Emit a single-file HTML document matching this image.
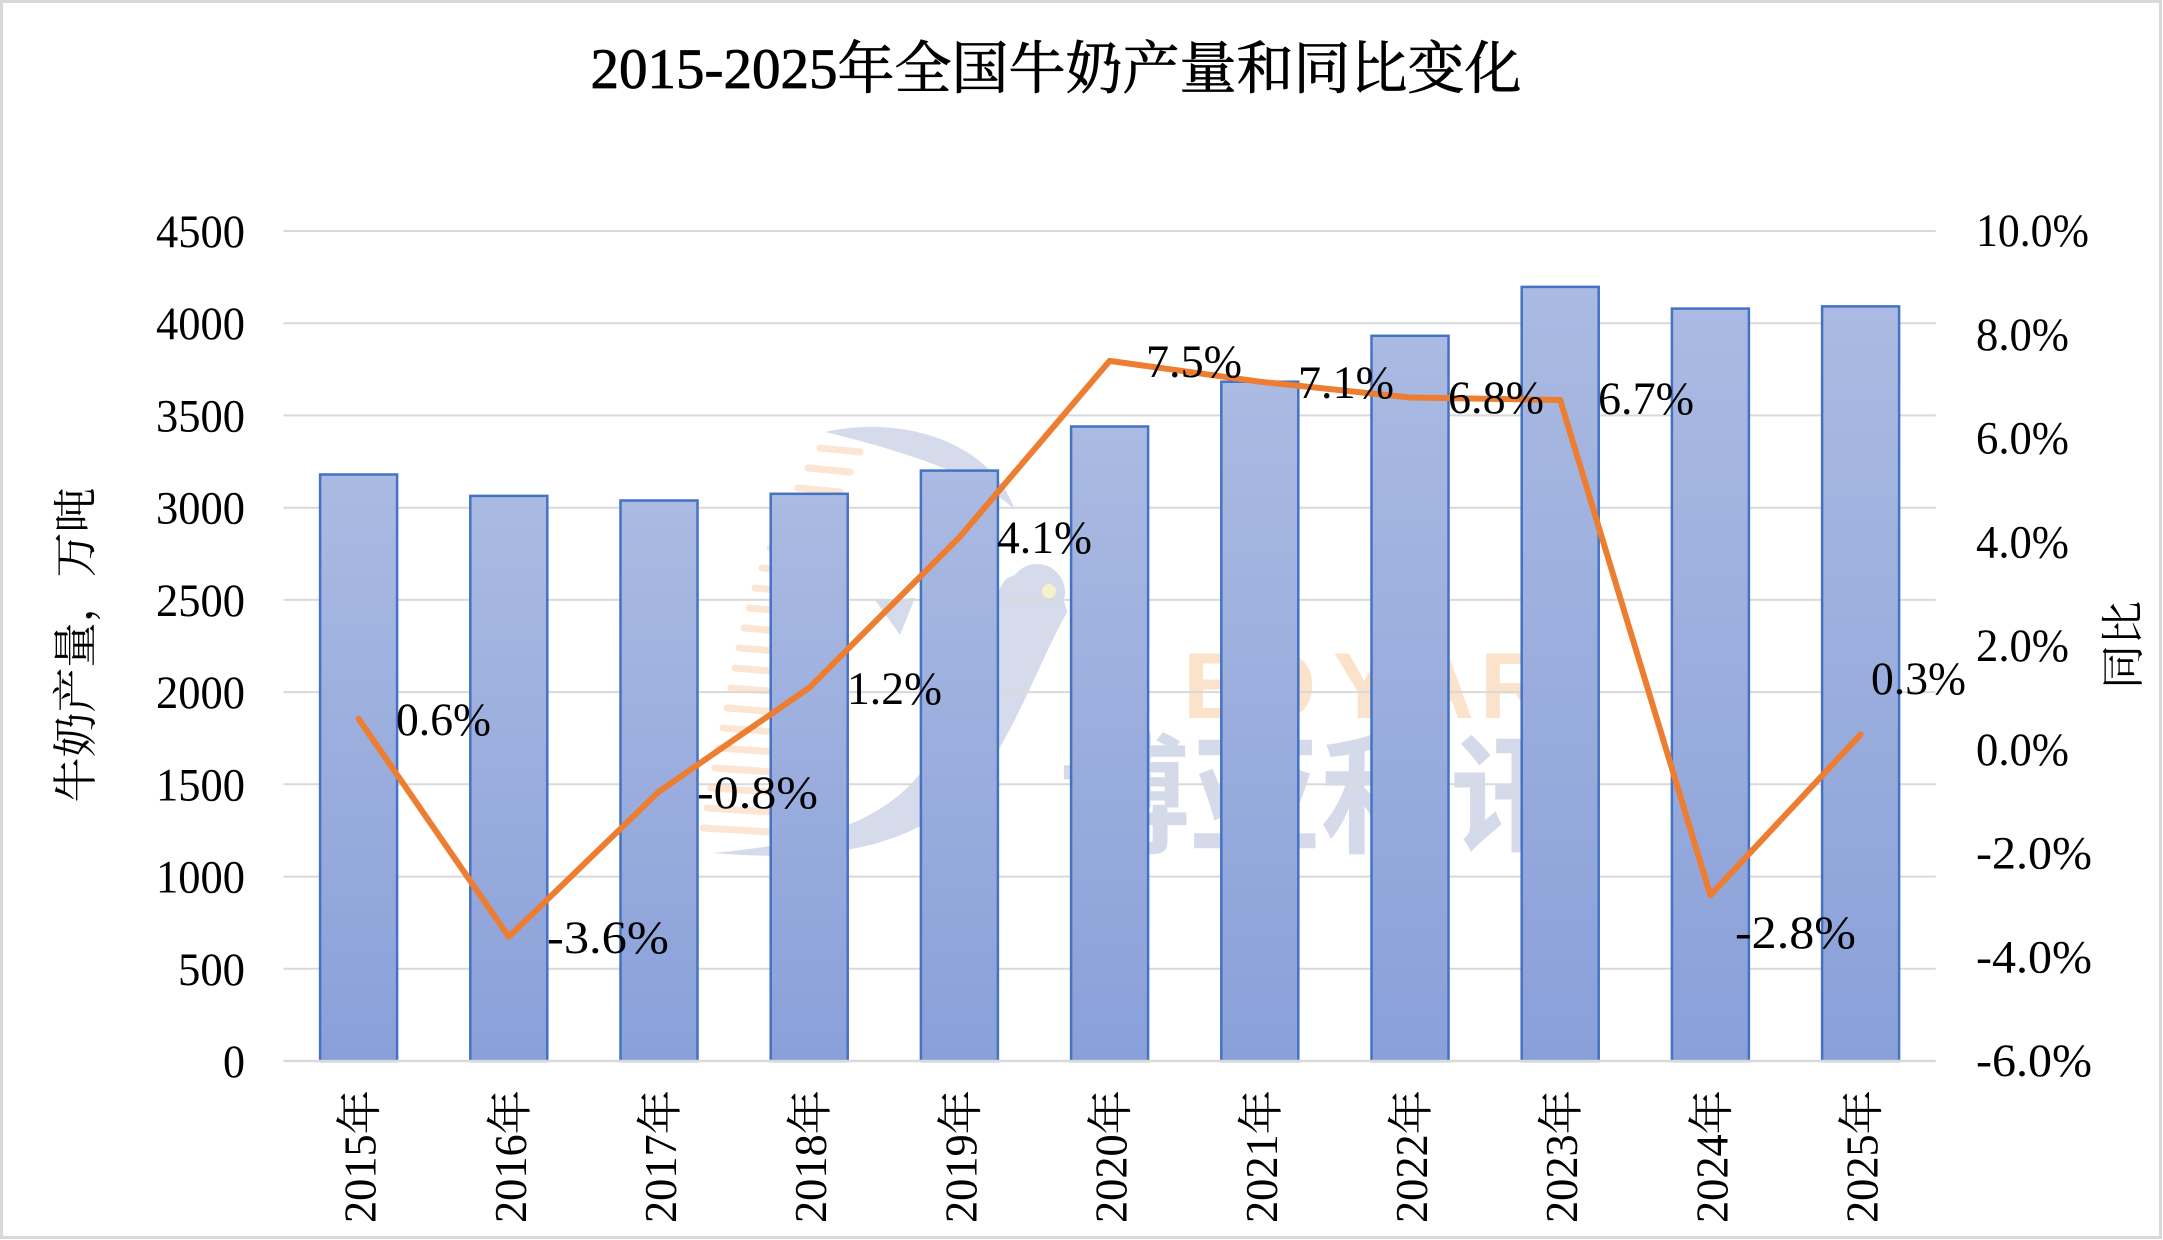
<!DOCTYPE html>
<html><head><meta charset="utf-8"><style>html,body{margin:0;padding:0;background:#fff}svg{display:block}</style></head>
<body>
<svg width="2163" height="1240" viewBox="0 0 2163 1240" xmlns="http://www.w3.org/2000/svg">
<defs>
<linearGradient id="bg" x1="0" y1="0" x2="0" y2="1">
<stop offset="0" stop-color="#AABAE2"/><stop offset="1" stop-color="#8AA0D9"/>
</linearGradient>
</defs>
<rect width="2163" height="1240" fill="#fff"/>
<rect x="1.5" y="1.5" width="2159" height="1236" fill="none" stroke="#D9D9D9" stroke-width="3"/>

<!-- watermark -->
<g>
<path d="M825 432 C900 415 990 440 1015 510 C985 480 920 455 825 432 Z" fill="#D6DBEB"/>
<circle cx="1037" cy="592" r="28" fill="#D6DBEB"/>
<path d="M1067 612 C1060 575 1025 565 1005 580 C985 610 970 660 950 720 C920 800 860 840 713 853 C820 862 900 850 960 800 C1010 750 1030 680 1067 612 Z" fill="#D6DBEB"/>
<path d="M875 600 L915 598 L900 635 Z" fill="#D6DBEB"/>
<circle cx="1049" cy="591" r="7" fill="#F6F2C8"/>
<g stroke="#FCE6D3" stroke-width="7" stroke-linecap="round">
<line x1="820" y1="448" x2="860" y2="452"/><line x1="808" y1="468" x2="850" y2="472"/>
<line x1="798" y1="488" x2="840" y2="492"/><line x1="788" y1="508" x2="830" y2="512"/>
<line x1="779" y1="528" x2="822" y2="532"/><line x1="770" y1="548" x2="814" y2="552"/>
<line x1="762" y1="568" x2="806" y2="572"/><line x1="755" y1="588" x2="800" y2="592"/>
<line x1="749" y1="608" x2="795" y2="612"/><line x1="744" y1="628" x2="790" y2="632"/>
<line x1="739" y1="648" x2="786" y2="652"/><line x1="735" y1="668" x2="783" y2="672"/>
<line x1="731" y1="688" x2="780" y2="692"/><line x1="727" y1="708" x2="778" y2="712"/>
<line x1="723" y1="728" x2="776" y2="732"/><line x1="719" y1="748" x2="774" y2="752"/>
<line x1="715" y1="768" x2="773" y2="772"/><line x1="711" y1="788" x2="772" y2="792"/>
<line x1="707" y1="808" x2="772" y2="812"/><line x1="703" y1="828" x2="772" y2="832"/>
</g>
<g font-family="Liberation Sans, sans-serif" font-weight="bold" font-size="94" fill="#FBE2CB">
<text x="1183" y="718">B</text><text x="1243" y="718">O</text><text x="1333" y="718">Y</text><text x="1406" y="718">A</text><text x="1480" y="718">R</text>
</g>
<text x="1060" y="843" font-family="Noto Sans CJK SC, sans-serif" font-weight="bold" font-size="130" fill="#D5DAEA">博亚和讯</text>
</g>

<!-- gridlines -->
<g stroke="#D9D9D9" stroke-width="2">
<line x1="283.5" y1="968.8" x2="1935.7" y2="968.8"/>
<line x1="283.5" y1="876.6" x2="1935.7" y2="876.6"/>
<line x1="283.5" y1="784.3" x2="1935.7" y2="784.3"/>
<line x1="283.5" y1="692.1" x2="1935.7" y2="692.1"/>
<line x1="283.5" y1="599.9" x2="1935.7" y2="599.9"/>
<line x1="283.5" y1="507.7" x2="1935.7" y2="507.7"/>
<line x1="283.5" y1="415.4" x2="1935.7" y2="415.4"/>
<line x1="283.5" y1="323.2" x2="1935.7" y2="323.2"/>
<line x1="283.5" y1="231" x2="1935.7" y2="231"/>
</g>

<!-- bars -->
<g fill="url(#bg)" stroke="#4472C4" stroke-width="2.5">
<rect x="320.1" y="474.5" width="77" height="586.5"/>
<rect x="470.3" y="495.9" width="77" height="565.1"/>
<rect x="620.5" y="500.5" width="77" height="560.5"/>
<rect x="770.7" y="493.8" width="77" height="567.2"/>
<rect x="920.9" y="470.6" width="77" height="590.4"/>
<rect x="1071.1" y="426.5" width="77" height="634.5"/>
<rect x="1221.3" y="381.7" width="77" height="679.3"/>
<rect x="1371.5" y="335.8" width="77" height="725.2"/>
<rect x="1521.7" y="286.9" width="77" height="774.1"/>
<rect x="1671.9" y="308.6" width="77" height="752.4"/>
<rect x="1822.1" y="306.4" width="77" height="754.6"/>
</g>
<line x1="283.5" y1="1061" x2="1935.7" y2="1061" stroke="#D9D9D9" stroke-width="2.5"/>

<!-- line -->
<polyline fill="none" stroke="#ED7D31" stroke-width="6" stroke-linejoin="round" stroke-linecap="round"
points="358.6,718.9 508.8,936.8 659,791.5 809.2,687.75 959.4,537.3 1109.6,360.9 1259.8,381.7 1410,397.5 1560.2,400 1710.4,895.3 1860.6,734.4"/>

<!-- title -->
<text x="1056" y="88" text-anchor="middle" font-family="Liberation Serif, Noto Serif CJK SC, serif" font-size="57" fill="#000" stroke="#000" stroke-width="0.8">2015-2025年全国牛奶产量和同比变化</text>

<!-- left axis labels -->
<g font-family="Liberation Serif, serif" font-size="47" fill="#000" text-anchor="end" lengthAdjust="spacingAndGlyphs">
<text x="245" y="1077" textLength="22" lengthAdjust="spacingAndGlyphs">0</text>
<text x="245" y="984.8" textLength="67" lengthAdjust="spacingAndGlyphs">500</text>
<text x="245" y="892.6" textLength="89" lengthAdjust="spacingAndGlyphs">1000</text>
<text x="245" y="800.3" textLength="89" lengthAdjust="spacingAndGlyphs">1500</text>
<text x="245" y="708.1" textLength="89" lengthAdjust="spacingAndGlyphs">2000</text>
<text x="245" y="615.9" textLength="89" lengthAdjust="spacingAndGlyphs">2500</text>
<text x="245" y="523.7" textLength="89" lengthAdjust="spacingAndGlyphs">3000</text>
<text x="245" y="431.4" textLength="89" lengthAdjust="spacingAndGlyphs">3500</text>
<text x="245" y="339.2" textLength="89" lengthAdjust="spacingAndGlyphs">4000</text>
<text x="245" y="247" textLength="89" lengthAdjust="spacingAndGlyphs">4500</text>
</g>

<!-- right axis labels -->
<g font-family="Liberation Serif, serif" font-size="47" fill="#000">
<text x="1976" y="246" textLength="113" lengthAdjust="spacingAndGlyphs">10.0%</text>
<text x="1976" y="349.75" textLength="93" lengthAdjust="spacingAndGlyphs">8.0%</text>
<text x="1976" y="453.5" textLength="93" lengthAdjust="spacingAndGlyphs">6.0%</text>
<text x="1976" y="557.25" textLength="93" lengthAdjust="spacingAndGlyphs">4.0%</text>
<text x="1976" y="661" textLength="93" lengthAdjust="spacingAndGlyphs">2.0%</text>
<text x="1976" y="764.75" textLength="93" lengthAdjust="spacingAndGlyphs">0.0%</text>
<text x="1976" y="868.5" textLength="116" lengthAdjust="spacingAndGlyphs">-2.0%</text>
<text x="1976" y="972.25" textLength="116" lengthAdjust="spacingAndGlyphs">-4.0%</text>
<text x="1976" y="1076" textLength="116" lengthAdjust="spacingAndGlyphs">-6.0%</text>
</g>

<!-- data labels -->
<g font-family="Liberation Serif, serif" font-size="47" fill="#000">
<text x="396" y="735" textLength="95" lengthAdjust="spacingAndGlyphs">0.6%</text>
<text x="547" y="953" textLength="122" lengthAdjust="spacingAndGlyphs">-3.6%</text>
<text x="697" y="808" textLength="121" lengthAdjust="spacingAndGlyphs">-0.8%</text>
<text x="847" y="704" textLength="95" lengthAdjust="spacingAndGlyphs">1.2%</text>
<text x="997" y="553" textLength="95" lengthAdjust="spacingAndGlyphs">4.1%</text>
<text x="1146" y="377" textLength="96" lengthAdjust="spacingAndGlyphs">7.5%</text>
<text x="1298" y="398" textLength="96" lengthAdjust="spacingAndGlyphs">7.1%</text>
<text x="1448" y="413" textLength="96" lengthAdjust="spacingAndGlyphs">6.8%</text>
<text x="1598" y="414" textLength="96" lengthAdjust="spacingAndGlyphs">6.7%</text>
<text x="1735" y="948" textLength="121" lengthAdjust="spacingAndGlyphs">-2.8%</text>
<text x="1871" y="694" textLength="95" lengthAdjust="spacingAndGlyphs">0.3%</text>
</g>

<!-- x axis labels -->
<g font-family="Liberation Serif, Noto Serif CJK SC, serif" font-size="46" fill="#000" text-anchor="end">
<text transform="translate(375.6,1090) rotate(-90)" textLength="133" lengthAdjust="spacingAndGlyphs">2015年</text>
<text transform="translate(525.8,1090) rotate(-90)" textLength="133" lengthAdjust="spacingAndGlyphs">2016年</text>
<text transform="translate(676,1090) rotate(-90)" textLength="133" lengthAdjust="spacingAndGlyphs">2017年</text>
<text transform="translate(826.2,1090) rotate(-90)" textLength="133" lengthAdjust="spacingAndGlyphs">2018年</text>
<text transform="translate(976.4,1090) rotate(-90)" textLength="133" lengthAdjust="spacingAndGlyphs">2019年</text>
<text transform="translate(1126.6,1090) rotate(-90)" textLength="133" lengthAdjust="spacingAndGlyphs">2020年</text>
<text transform="translate(1276.8,1090) rotate(-90)" textLength="133" lengthAdjust="spacingAndGlyphs">2021年</text>
<text transform="translate(1427,1090) rotate(-90)" textLength="133" lengthAdjust="spacingAndGlyphs">2022年</text>
<text transform="translate(1577.2,1090) rotate(-90)" textLength="133" lengthAdjust="spacingAndGlyphs">2023年</text>
<text transform="translate(1727.4,1090) rotate(-90)" textLength="133" lengthAdjust="spacingAndGlyphs">2024年</text>
<text transform="translate(1877.6,1090) rotate(-90)" textLength="133" lengthAdjust="spacingAndGlyphs">2025年</text>
</g>

<!-- axis titles -->
<text transform="translate(91,645) rotate(-90)" text-anchor="middle" font-family="Liberation Serif, Noto Serif CJK SC, serif" font-size="45" fill="#000">牛奶产量，万吨</text>
<text transform="translate(2138,645) rotate(-90)" text-anchor="middle" font-family="Liberation Serif, Noto Serif CJK SC, serif" font-size="44" fill="#000">同比</text>
</svg>
</body></html>
